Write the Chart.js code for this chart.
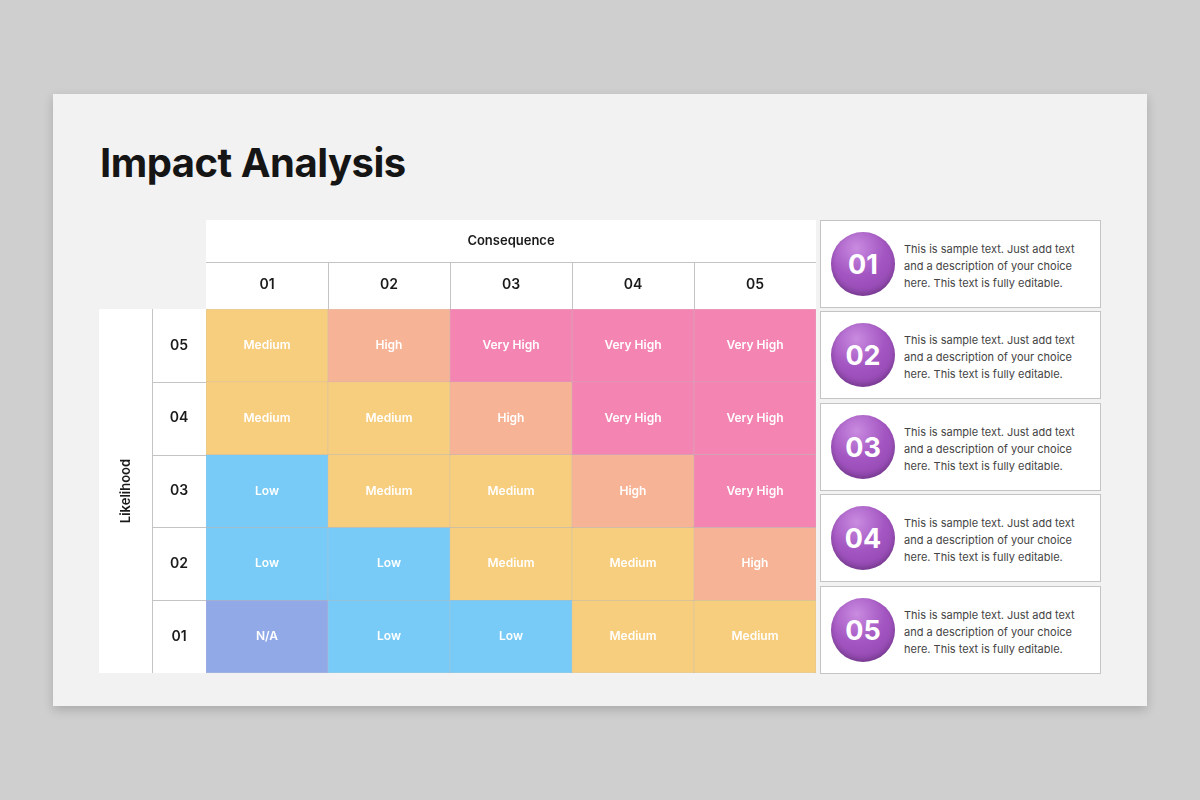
<!DOCTYPE html>
<html>
<head>
<meta charset="utf-8">
<script src="https://cdn.jsdelivr.net/npm/chart.js@4"></script>
<style>
  body { margin: 0; width: 1200px; height: 800px; background: #cfcfcf; font-family: Inter, "Open Sans", sans-serif; position: relative; overflow: hidden; }
  .slide { position: absolute; left: 53px; top: 94px; width: 1094px; height: 612px; background: #f2f2f2; box-shadow: 0 4px 10px rgba(0,0,0,0.18); }
  h1 { position: absolute; left: 100px; top: 138px; margin: 0; font-size: 40px; font-weight: 700; color: #151515; letter-spacing: -0.5px; }
  #wrap { position: absolute; left: 99px; top: 220px; width: 717px; height: 453px; }
  .note { position: absolute; left: 820px; width: 279px; height: 86px; background: #fff; border: 1px solid #c4c4c4; }
  .badge { position: absolute; left: 10px; top: 11px; width: 64px; height: 64px; border-radius: 50%;
    background: radial-gradient(circle at 40% 25%, #c98be0 0%, #a457c2 45%, #8a3fa8 100%);
    box-shadow: inset 0 -3px 5px rgba(0,0,0,0.2); color: #fff; font-weight: 700; font-size: 27px;
    display: flex; align-items: center; justify-content: center; }
  .txt { position: absolute; left: 83px; top: 20px; font-size: 11px; line-height: 17px; color: #444; width: 185px; }
</style>
</head>
<body>
<div class="slide"></div>
<h1>Impact Analysis</h1>
<div id="wrap"><canvas id="matrix"></canvas></div>
<div id="notes"></div>
<script>
// Categories and values
const consequence = ['01', '02', '03', '04', '05'];
const likelihood = ['05', '04', '03', '02', '01']; // top to bottom
const levels = [
  ['Medium', 'High', 'Very High', 'Very High', 'Very High'],
  ['Medium', 'Medium', 'High', 'Very High', 'Very High'],
  ['Low', 'Medium', 'Medium', 'High', 'Very High'],
  ['Low', 'Low', 'Medium', 'Medium', 'High'],
  ['N/A', 'Low', 'Low', 'Medium', 'Medium']
];
const levelColors = { 'N/A': '#91a9e7', 'Low': '#79cbf7', 'Medium': '#f7cd7e', 'High': '#f7b395', 'Very High': '#f485b3' };
const noteNumbers = ['01', '02', '03', '04', '05'];
const noteText = 'This is sample text. Just add text and a description of your choice here. This text is fully editable.';

// Right side notes
const noteTops = [220, 311, 403, 494, 586];
const notes = document.getElementById('notes');
noteNumbers.forEach((n, i) => {
  const d = document.createElement('div');
  d.className = 'note';
  d.style.top = noteTops[i] + 'px';
  d.innerHTML = '<div class="badge">' + n + '</div><div class="txt">' + noteText + '</div>';
  notes.appendChild(d);
});

// One dataset per likelihood row, floating bars span one unit
const datasets = likelihood.map((lk, r) => {
  const y = 5 - r;
  return {
    label: lk,
    data: consequence.map(() => [y - 1, y]),
    backgroundColor: levels[r].map(l => levelColors[l]),
    borderColor: '#b8b8b8',
    borderWidth: 0.5,
    borderSkipped: false,
    barPercentage: 1,
    categoryPercentage: 1,
    grouped: false
  };
});

const frame = {
  id: 'frame',
  beforeDatasetsDraw(chart) {
    const c = chart.ctx, a = chart.chartArea;
    const x = chart.scales.x, y = chart.scales.y;
    c.save();
    c.fillStyle = '#fff';
    c.fillRect(a.left, 0, a.right - a.left, a.top);
    c.fillRect(0, a.top, a.left, a.bottom - a.top);
    c.strokeStyle = '#c4c4c4';
    c.lineWidth = 1;
    const colW = (a.right - a.left) / consequence.length;
    c.beginPath();
    c.moveTo(a.left, 42.5); c.lineTo(a.right, 42.5);
    for (let i = 1; i < consequence.length; i++) {
      const px = Math.round(a.left + colW * i) + 0.5;
      c.moveTo(px, 42); c.lineTo(px, a.top);
    }
    c.moveTo(53.5, a.top); c.lineTo(53.5, a.bottom);
    for (let v = 1; v < 5; v++) {
      const py = Math.round(y.getPixelForValue(v)) + 0.5;
      c.moveTo(53, py); c.lineTo(a.left, py);
    }
    c.stroke();
    c.fillStyle = '#1a1a1a';
    c.textAlign = 'center'; c.textBaseline = 'middle';
    c.font = '600 13px Inter, sans-serif';
    c.fillText('Consequence', (a.left + a.right) / 2, 21);
    c.font = '600 14px Inter, sans-serif';
    consequence.forEach((k, i) => c.fillText(k, x.getPixelForValue(i), 65));
    likelihood.forEach((k, r) => c.fillText(k, 80, y.getPixelForValue(4.5 - r)));
    c.translate(27, (a.top + a.bottom) / 2);
    c.rotate(-Math.PI / 2);
    c.font = '600 13px Inter, sans-serif';
    c.fillText('Likelihood', 0, 0);
    c.restore();
  },
  afterDatasetsDraw(chart) {
    const c = chart.ctx;
    c.save();
    c.fillStyle = '#fff';
    c.textAlign = 'center'; c.textBaseline = 'middle';
    c.font = '600 12px Inter, sans-serif';
    chart.data.datasets.forEach((ds, r) => {
      chart.getDatasetMeta(r).data.forEach((bar, i) => {
        c.fillText(levels[r][i], bar.x, (bar.y + bar.base) / 2);
      });
    });
    c.restore();
  }
};

new Chart(document.getElementById('matrix'), {
  type: 'bar',
  data: { labels: consequence, datasets },
  options: {
    responsive: true,
    maintainAspectRatio: false,
    animation: false,
    layout: { padding: 0 },
    plugins: { legend: { display: false }, tooltip: { enabled: false } },
    scales: {
      x: { position: 'top', grid: { display: false }, border: { display: false },
           ticks: { display: false }, afterFit: s => { s.height = 89; } },
      y: { min: 0, max: 5, grid: { display: false }, border: { display: false },
           ticks: { display: false }, afterFit: s => { s.width = 107; } }
    }
  },
  plugins: [frame]
});
</script>
</body>
</html>
